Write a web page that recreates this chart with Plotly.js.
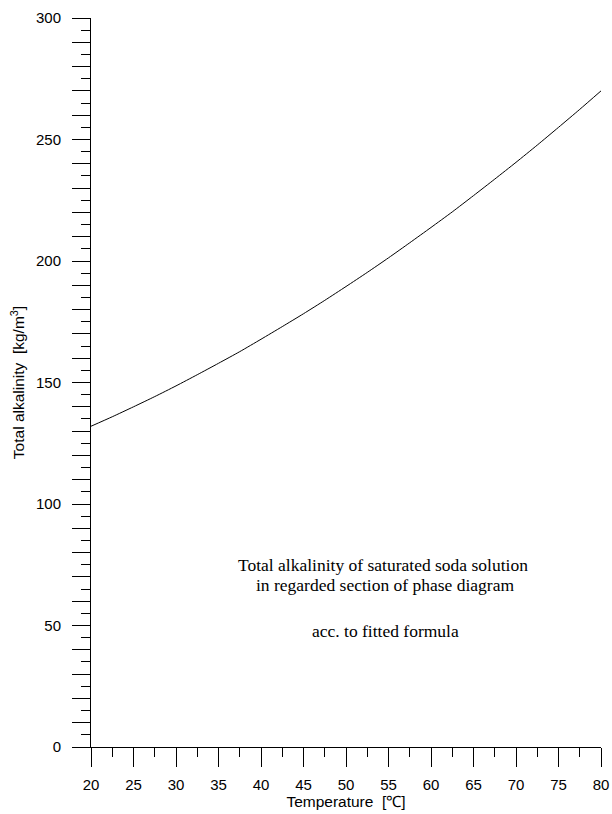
<!DOCTYPE html>
<html>
<head>
<meta charset="utf-8">
<script src="https://cdn.plot.ly/plotly-3.0.1.min.js"></script>
<style>html,body{margin:0;padding:0;background:#fff;}#chart{width:612px;height:814px;}</style>
</head>
<body>
<div id="chart"></div>
<script>
// Temperature [°C]
const temperature = [20, 22.5, 25, 27.5, 30, 32.5, 35, 37.5, 40, 42.5, 45, 47.5, 50, 52.5, 55, 57.5, 60, 62.5, 65, 67.5, 70, 72.5, 75, 77.5, 80];
// Total alkalinity [kg/m3]
const alkalinity = [132, 135.9, 140, 144.2, 148.6, 153.2, 157.9, 162.7, 167.8, 173, 178.3, 183.8, 189.5, 195.3, 201.3, 207.5, 213.8, 220.2, 226.9, 233.7, 240.6, 247.7, 255, 262.4, 270];

const xTickVals = [20, 25, 30, 35, 40, 45, 50, 55, 60, 65, 70, 75, 80];
const yTickVals = [];
const yTickText = [];
for (let v = 0; v <= 300; v += 10) { yTickVals.push(v); yTickText.push(v % 50 === 0 ? String(v) : ''); }

const noteLines = ['Total alkalinity of saturated soda solution', 'in regarded section of phase diagram', 'acc. to fitted formula'];
const notePosX = [0.5735, 0.5755, 0.578];
const notePosY = [0.2497, 0.2223, 0.1591];

const trace = {
  x: temperature, y: alkalinity, type: 'scatter', mode: 'lines',
  line: {color: '#000', width: 1, shape: 'spline', smoothing: 0.6}, hoverinfo: 'skip'
};

const annotations = noteLines.map((t, i) => ({
  xref: 'paper', yref: 'paper', x: notePosX[i], y: notePosY[i], xanchor: 'center', yanchor: 'middle',
  text: t, showarrow: false,
  font: {family: 'Liberation Serif, Times New Roman, serif', size: 17.5, color: '#000'}
}));

const layout = {
  width: 612, height: 814,
  margin: {l: 91, r: 11, t: 18, b: 67},
  paper_bgcolor: '#fff', plot_bgcolor: '#fff',
  showlegend: false,
  font: {family: 'Liberation Sans, Arial, sans-serif', color: '#000', size: 15},
  xaxis: {
    range: [20, 80], showgrid: false, zeroline: false,
    showline: true, linecolor: '#000', linewidth: 1,
    ticks: 'outside', tickvals: xTickVals, ticklen: 19, tickwidth: 1, tickcolor: '#000',
    minor: {dtick: 2.5, tick0: 0, ticks: 'outside', ticklen: 9, tickwidth: 1, tickcolor: '#000'},
    tickfont: {size: 15}, ticklabelstandoff: 5,
    title: {text: 'Temperature  [\u2103]', font: {size: 15.5}, standoff: 1}
  },
  yaxis: {
    range: [0, 300], showgrid: false, zeroline: false,
    showline: true, linecolor: '#000', linewidth: 1,
    ticks: 'outside', tickvals: yTickVals, ticktext: yTickText, ticklen: 18, tickwidth: 1, tickcolor: '#000',
    minor: {dtick: 5, tick0: 0, ticks: 'outside', ticklen: 9, tickwidth: 1, tickcolor: '#000'},
    tickfont: {size: 15}, ticklabelstandoff: 8,
    title: {text: 'Total alkalinity  [kg/m<sup>3</sup>]', font: {size: 15.5}, standoff: 7}
  },
  annotations: annotations
};

Plotly.newPlot('chart', [trace], layout, {staticPlot: true, displayModeBar: false});
</script>
</body>
</html>
